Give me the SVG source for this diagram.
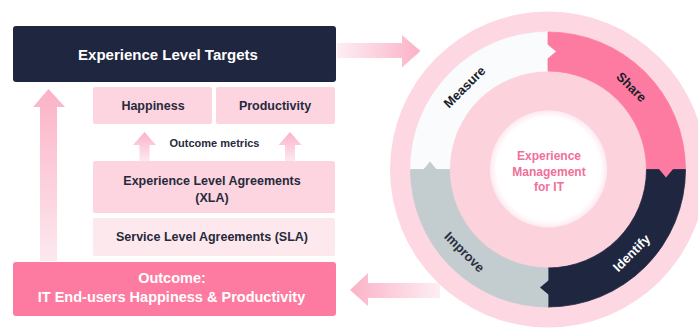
<svg xmlns="http://www.w3.org/2000/svg" width="698" height="329" viewBox="0 0 698 329">
  <style>
    text { font-family: "Liberation Sans", Arial, sans-serif; font-weight: 700; }
    .dark { fill: #1f2640; }
    .light { fill: #fdd5e0; }
    .lighter { fill: #fde8ee; }
    .hot { fill: #fd7ba0; }
    .lbl { fill: #262a3c; font-size: 12.5px; text-anchor: middle; }
    .ring { font-size: 13px; text-anchor: middle; dominant-baseline: central; }
    .seg { stroke-width: 0.8; }
  </style>
  <defs>
    <linearGradient id="gUp" x1="0" y1="0" x2="0" y2="1">
      <stop offset="0" stop-color="#fbb2c7"/>
      <stop offset="1" stop-color="#fde9ef"/>
    </linearGradient>
    <linearGradient id="gRight" x1="0" y1="0" x2="1" y2="0">
      <stop offset="0" stop-color="#fdeef3"/>
      <stop offset="1" stop-color="#fbb2c7"/>
    </linearGradient>
    <linearGradient id="gLeft" x1="0" y1="0" x2="1" y2="0">
      <stop offset="0" stop-color="#fbb2c7"/>
      <stop offset="1" stop-color="#fdeef3"/>
    </linearGradient>
    <radialGradient id="gCore" cx="0.5" cy="0.5" r="0.5">
      <stop offset="0.88" stop-color="#ffffff"/>
      <stop offset="1" stop-color="#fdeaf0"/>
    </radialGradient>
  </defs>

  <!-- arrows between blocks -->
  <g id="connectors">
    <path d="M40 261 V107 H33 L48.5 89 L65 107 H57 V261 Z" fill="url(#gUp)"/>
    <path d="M139.5 161 V145 H133 L144.5 132 L156 145 H149.5 V161 Z" fill="url(#gUp)"/>
    <path d="M285 161 V145 H278.5 L290 132 L301.5 145 H295 V161 Z" fill="url(#gUp)"/>
    <path d="M337 43 H402 V35 L420.5 51 L402 67.5 V58 H337 Z" fill="url(#gRight)"/>
    <path d="M440 283 H368 V273 L350 290 L368 306 V298 H440 Z" fill="url(#gLeft)"/>
  </g>

  <g id="targets">
    <rect class="dark" x="13" y="26" width="323" height="56" rx="3"/>
    <text x="168" y="60" fill="#ffffff" font-size="15" text-anchor="middle">Experience Level Targets</text>
  </g>

  <g id="happiness">
    <rect class="light" x="93" y="87" width="119" height="37" rx="2"/>
    <text class="lbl" x="153" y="110" font-size="12">Happiness</text>
  </g>

  <g id="productivity">
    <rect class="light" x="216" y="87" width="119" height="37" rx="2"/>
    <text class="lbl" x="275" y="110" font-size="12">Productivity</text>
  </g>

  <g id="outcome-metrics">
    <text class="lbl" x="214.5" y="147" style="font-size:11px">Outcome metrics</text>
  </g>

  <g id="xla">
    <rect class="light" x="93" y="161" width="242" height="52" rx="2"/>
    <text class="lbl" x="212" y="185">Experience Level Agreements</text>
    <text class="lbl" x="212" y="202">(XLA)</text>
  </g>

  <g id="sla">
    <rect class="lighter" x="93" y="218" width="242" height="38" rx="2"/>
    <text class="lbl" x="212" y="241">Service Level Agreements (SLA)</text>
  </g>

  <g id="outcome">
    <rect class="hot" x="13" y="262" width="323" height="54" rx="3"/>
    <text x="172" y="283" fill="#ffffff" font-size="14.5" text-anchor="middle">Outcome:</text>
    <text x="171.5" y="302" fill="#ffffff" font-size="14.5" text-anchor="middle">IT End-users Happiness &amp; Productivity</text>
  </g>

  <!-- experience management cycle -->
  <g id="cycle">
    <circle cx="548" cy="169.5" r="158" fill="#fdd8e2"/>
    <circle cx="548" cy="169.5" r="99" fill="#fcd2dd"/>

    <g id="measure">
      <path class="seg" d="M410.5 169.5 A137.5 137.5 0 0 1 548 32 L548 71 A98.5 98.5 0 0 0 449.5 169.5 Z" fill="#fafbfd" stroke="#fafbfd"/>
    </g>
    <g id="share">
      <path class="seg" d="M548 32 A137.5 137.5 0 0 1 685.5 169.5 L646.5 169.5 A98.5 98.5 0 0 0 548 71 Z" fill="#fd7ba0" stroke="#fd7ba0"/>
    </g>
    <g id="identify">
      <path class="seg" d="M685.5 169.5 A137.5 137.5 0 0 1 548 307 L548 268 A98.5 98.5 0 0 0 646.5 169.5 Z" fill="#1f2640" stroke="#1f2640"/>
    </g>
    <g id="improve">
      <path class="seg" d="M548 307 A137.5 137.5 0 0 1 410.5 169.5 L449.5 169.5 A98.5 98.5 0 0 0 548 268 Z" fill="#c3cccf" stroke="#c3cccf"/>
    </g>

    <!-- pointed ends showing the clockwise flow -->
    <polygon points="547,44 556,51.5 547,59" fill="#fafbfd"/>
    <polygon points="658.5,168.5 666,177.5 673.5,168.5" fill="#fd7ba0"/>
    <polygon points="549,280 540,287.5 549,295" fill="#1f2640"/>
    <polygon points="422.5,170.5 430,161.5 437.5,170.5" fill="#c3cccf"/>

    <text class="ring" fill="#1a1d2b" transform="translate(464.5 87) rotate(-45)">Measure</text>
    <text class="ring" fill="#1a1d2b" transform="translate(631.5 87) rotate(45)">Share</text>
    <text class="ring" fill="#ffffff" transform="translate(631.5 253) rotate(-45)">Identify</text>
    <text class="ring" fill="#2a2f40" transform="translate(464.5 252) rotate(45)">Improve</text>

    <g id="core">
      <circle cx="548.5" cy="169" r="58.5" fill="url(#gCore)"/>
      <text x="549" y="160" fill="#f0709a" font-size="12" text-anchor="middle">Experience</text>
      <text x="549" y="175.5" fill="#f0709a" font-size="12" text-anchor="middle">Management</text>
      <text x="549" y="191" fill="#f0709a" font-size="12" text-anchor="middle">for IT</text>
    </g>
  </g>
</svg>
